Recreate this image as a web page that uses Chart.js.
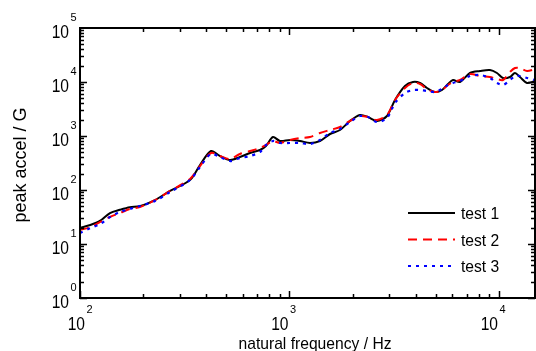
<!DOCTYPE html>
<html>
<head>
<meta charset="utf-8">
<script src="https://cdn.jsdelivr.net/npm/chart.js@4.4.0/dist/chart.umd.min.js"></script>
<style>
  body { margin: 0; background: #fff; }
  #wrap { width: 536px; height: 351px; }
</style>
</head>
<body>
<div id="wrap"><canvas id="shock"></canvas></div>
<script>
// natural frequency (Hz), shared by all three tests
const freqs = [100, 112, 125, 139, 155, 173, 193, 228, 269, 335, 374, 422, 466, 520, 580, 648, 723, 772, 834, 901,
  1006, 1122, 1253, 1398, 1561, 1742, 1945, 2170, 2370, 2617, 2920, 3189, 3559, 3887, 4198, 4533, 4950, 5346,
  5709, 6031, 6514, 7271, 8114, 9059, 9783, 10450, 11290, 11920, 12600, 13610, 14860];

// peak accel (G)
const test1 = [20, 22.5, 27, 37.5, 43, 48, 50, 65, 96, 153, 290, 527, 426, 359, 408, 484, 550, 653, 958, 808,
  843, 808, 742, 808, 1089, 1292, 1896, 2448, 2248, 1896, 2346, 4642, 8432, 10000, 9583, 7743, 6529, 7110,
  9183, 10890, 10000, 14678, 15984, 16681, 14678, 11860, 12376, 14678, 12376, 9583, 10435];
const test2 = [18.2, 20.6, 25.6, 31.6, 37.5, 44.5, 48.4, 65, 96, 160, 278, 484, 426, 375, 464, 527, 600, 681, 808, 742,
  843, 918, 958, 1136, 1292, 1468, 1896, 2346, 2248, 1979, 2448, 4642, 7743, 9583, 9183, 7420, 6529, 7110,
  8799, 10000, 10890, 14065, 12915, 12376, 11365, 10890, 15317, 18165, 18165, 15984, 17407];
const test3 = [16, 19.8, 23.5, 31.6, 39.1, 44.5, 50.5, 62.6, 91.8, 153, 267, 464, 408, 344, 391, 426, 505, 681, 808, 742,
  742, 742, 711, 843, 1136, 1348, 1817, 2346, 2248, 1817, 2154, 4084, 6256, 7110, 7110, 6813, 6529, 7420,
  8799, 9583, 10435, 12915, 13478, 11860, 9583, 8799, 10890, 12915, 12915, 11860, 10890];

const xDecades = [2, 3, 4];
const yDecades = [0, 1, 2, 3, 4, 5];
const seriesNames = ['test 1', 'test 2', 'test 3'];

const pts = vals => freqs.map((f, i) => ({ x: f, y: vals[i] }));

// box with inward ticks, power-of-ten labels, titles and legend
const frame = {
  id: 'frame',
  afterDatasetsDraw(chart) {
    const { ctx, chartArea: a, scales: { x, y } } = chart;
    ctx.save();
    ctx.strokeStyle = '#000';
    ctx.fillStyle = '#000';

    ctx.lineWidth = 1.5;
    ctx.beginPath();
    for (let d = 2; d <= 4; d++) {
      for (let m = 1; m <= 9; m++) {
        const v = m * Math.pow(10, d);
        if (v > x.max) break;
        const px = Math.round(x.getPixelForValue(v)) + 0.5;
        const len = m === 1 ? 7 : 4;
        ctx.moveTo(px, a.bottom); ctx.lineTo(px, a.bottom - len);
        ctx.moveTo(px, a.top); ctx.lineTo(px, a.top + len);
      }
    }
    for (let d = 0; d <= 4; d++) {
      for (let m = 1; m <= 9; m++) {
        const v = m * Math.pow(10, d);
        const py = Math.round(y.getPixelForValue(v)) + 0.5;
        const len = m === 1 ? 7 : 4;
        ctx.moveTo(a.left, py); ctx.lineTo(a.left + len, py);
        ctx.moveTo(a.right, py); ctx.lineTo(a.right - len, py);
      }
    }
    ctx.stroke();

    ctx.lineWidth = 2;
    ctx.strokeRect(a.left, a.top, a.right - a.left, a.bottom - a.top);

    const pow = (xr, base, e) => {
      ctx.save();
      ctx.font = '19px "Liberation Sans", Arial, sans-serif';
      ctx.textAlign = 'right';
      ctx.textBaseline = 'alphabetic';
      ctx.translate(xr, base);
      ctx.scale(0.82, 1);
      ctx.fillText('10', 0, 0);
      ctx.restore();
      ctx.font = '11px "Liberation Sans", Arial, sans-serif';
      ctx.textAlign = 'left';
      ctx.fillText(String(e), xr + 1.5, base - 17);
    };

    yDecades.forEach(e => {
      const py = y.getPixelForValue(Math.pow(10, e));
      pow(a.left - 11, py + 10, e);
    });
    xDecades.forEach((e, i) => {
      const px = x.getPixelForValue(Math.pow(10, e));
      pow(px + (i === 0 ? 5 : -1), a.bottom + 32, e);
    });

    ctx.font = '17px "Liberation Sans", Arial, sans-serif';
    ctx.textAlign = 'center';
    ctx.save();
    ctx.translate(315, 349);
    ctx.scale(0.92, 1);
    ctx.fillText('natural frequency / Hz', 0, 0);
    ctx.restore();

    ctx.save();
    ctx.translate(26, 165);
    ctx.rotate(-Math.PI / 2);
    ctx.font = '18px "Liberation Sans", Arial, sans-serif';
    ctx.fillText('peak accel / G', 0, 0);
    ctx.restore();

    // legend
    chart.data.datasets.forEach((ds, i) => {
      const ly = 213 + i * 26.5;
      ctx.save();
      ctx.strokeStyle = ds.borderColor;
      ctx.lineWidth = 2;
      ctx.setLineDash(ds.borderDash || []);
      ctx.beginPath();
      ctx.moveTo(408, ly); ctx.lineTo(455, ly);
      ctx.stroke();
      ctx.restore();
      ctx.save();
      ctx.font = '17px "Liberation Sans", Arial, sans-serif';
      ctx.textAlign = 'left';
      ctx.translate(461, ly + 6);
      ctx.scale(0.92, 1);
      ctx.fillText(ds.label, 0, 0);
      ctx.restore();
    });
    ctx.restore();
  }
};

new Chart(document.getElementById('shock'), {
  type: 'line',
  data: {
    datasets: [
      { label: seriesNames[0], data: pts(test1), borderColor: '#000000', borderWidth: 2, order: 3 },
      { label: seriesNames[1], data: pts(test2), borderColor: 'rgb(255,0,0)', borderWidth: 2, borderDash: [9, 6], order: 2 },
      { label: seriesNames[2], data: pts(test3), borderColor: 'rgb(0,0,255)', borderWidth: 2.2, borderDash: [3, 5], order: 1 }
    ]
  },
  options: {
    responsive: true,
    maintainAspectRatio: false,
    animation: false,
    layout: { padding: { left: 80, right: 1, top: 28, bottom: 53 } },
    elements: { point: { radius: 0 }, line: { tension: 0.3, fill: false } },
    scales: {
      x: { type: 'logarithmic', min: 100, max: 14860, display: false },
      y: { type: 'logarithmic', min: 1, max: 100000, display: false }
    },
    plugins: { legend: { display: false }, tooltip: { enabled: false } }
  },
  plugins: [frame]
});
</script>
</body>
</html>
